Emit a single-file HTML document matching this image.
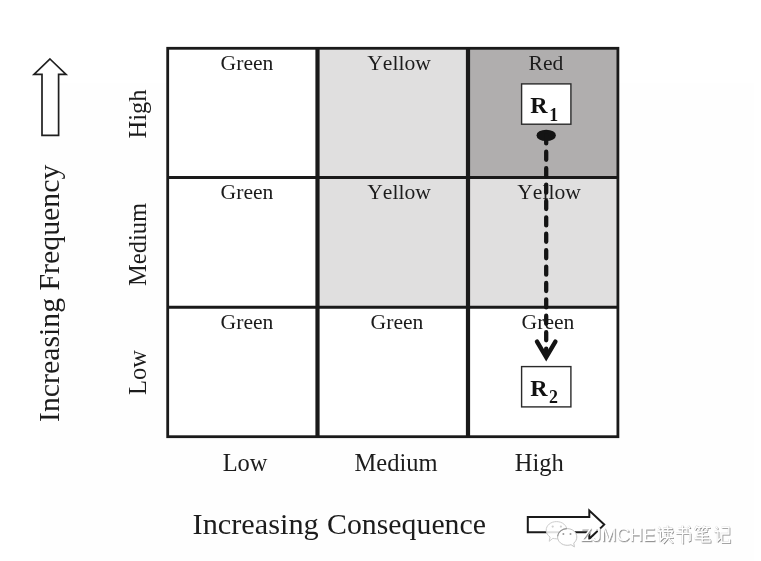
<!DOCTYPE html>
<html>
<head>
<meta charset="utf-8">
<title>Risk Matrix</title>
<style>
  html, body { margin: 0; padding: 0; background: #ffffff; }
  body { width: 761px; height: 561px; overflow: hidden; position: relative; }
  svg { position: absolute; left: 0; top: 0; display: block; will-change: transform; }
  text { font-family: "Liberation Serif", serif; fill: #1c1c1c; }
  .cell { font-kerning: none; font-size: 21.6px; text-anchor: middle; }
  .axis { font-size: 24.5px; text-anchor: middle; }
  .title { font-size: 29.5px; }
  .rb { font-weight: bold; font-size: 24px; fill: #111; }
  .sub { font-weight: bold; font-size: 17.9px; fill: #111; }
</style>
</head>
<body>
<svg width="761" height="561" viewBox="0 0 761 561">
  <!-- faint page tint -->
  <rect x="40" y="83.5" width="714" height="477.5" fill="#fefefe"/>

  <!-- cell fills -->
  <rect x="168" y="48" width="450" height="389" fill="#ffffff"/>
  <rect x="317.5" y="48" width="150.5" height="259" fill="#e0dfdf"/>
  <rect x="468" y="177" width="150" height="130" fill="#e0dfdf"/>
  <rect x="468" y="48" width="150" height="129.5" fill="#b0aeae"/>

  <!-- grid lines -->
  <g stroke="#1a1a1a" fill="none">
    <rect x="167.7" y="48.3" width="450.2" height="388.4" stroke-width="2.8"/>
    <line x1="167" y1="177.5" x2="618" y2="177.5" stroke-width="3"/>
    <line x1="167" y1="307.2" x2="618" y2="307.2" stroke-width="3"/>
    <line x1="317.5" y1="48" x2="317.5" y2="437" stroke-width="4.2"/>
    <line x1="468" y1="48" x2="468" y2="437" stroke-width="4.2"/>
  </g>

  <!-- cell labels -->
  <text class="cell" x="247" y="70.4">Green</text>
  <text class="cell" x="399" y="70.4">Yellow</text>
  <text class="cell" x="546" y="70.2">Red</text>
  <text class="cell" x="247" y="199.4">Green</text>
  <text class="cell" x="399" y="199.4">Yellow</text>
  <text class="cell" x="549" y="199.4">Yellow</text>
  <text class="cell" x="247" y="329.4">Green</text>
  <text class="cell" x="397" y="329.4">Green</text>
  <text class="cell" x="548" y="329.4">Green</text>

  <!-- R1 / R2 boxes -->
  <rect x="521.6" y="83.9" width="49.3" height="40.3" fill="#ffffff" stroke="#2a2a2a" stroke-width="1.4"/>
  <text class="rb" x="530.3" y="112.9">R</text>
  <text class="sub" x="549.2" y="120.5">1</text>
  <rect x="521.6" y="366.6" width="49.3" height="40.3" fill="#ffffff" stroke="#2a2a2a" stroke-width="1.4"/>
  <text class="rb" x="530.3" y="395.7">R</text>
  <text class="sub" x="548.9" y="403.4">2</text>

  <!-- dot, dashed line, arrowhead -->
  <ellipse cx="546.2" cy="135.4" rx="9.7" ry="5.7" fill="#141414"/>
  <line x1="546.2" y1="135.35" x2="546.2" y2="356" stroke="#141414" stroke-width="4.3" stroke-linecap="round" stroke-dasharray="8.1 8.3"/>
  <polyline points="537,341.6 546.2,357.2 555.4,341.6" fill="none" stroke="#141414" stroke-width="4.4" stroke-linecap="round" stroke-linejoin="miter"/>

  <!-- row labels (rotated) -->
  <text class="axis" transform="translate(145.7,114) rotate(-90)">High</text>
  <text class="axis" transform="translate(145.7,244.4) rotate(-90)">Medium</text>
  <text class="axis" transform="translate(145.7,372.5) rotate(-90)">Low</text>

  <!-- column labels -->
  <text class="axis" x="245.1" y="471">Low</text>
  <text class="axis" x="396" y="471">Medium</text>
  <text class="axis" x="539.3" y="471">High</text>

  <!-- axis titles -->
  <text class="title" style="font-size:30.3px" x="192.6" y="534">Increasing</text>
  <text class="title" style="font-size:29.8px" x="327.1" y="534">Consequence</text>
  <text class="title" style="font-size:29.8px" transform="translate(58.8,422) rotate(-90)">Increasing Frequency</text>

  <!-- up arrow -->
  <polygon points="50,59 66,74.3 58.6,74.3 58.6,135.4 42,135.4 42,74.3 34,74.3" fill="#ffffff" stroke="#1f1f1f" stroke-width="1.7" stroke-linejoin="miter"/>

  <!-- right arrow -->
  <polygon points="527.8,517 589.3,517 589.3,510.6 604.2,524.6 589.3,538.8 589.3,532.3 527.8,532.3" fill="#ffffff" stroke="#1a1a1a" stroke-width="2" stroke-linejoin="miter"/>

  <!-- watermark: wechat icon -->
  <g>
    <path d="M556.5,521.6 C562.4,521.6 566.9,525.4 566.9,530.2 C566.9,535 562.4,538.8 556.5,538.8 C555.2,538.8 554,538.6 552.9,538.3 L549.2,541.3 L550.1,537 C547.7,535.4 546.2,533 546.2,530.2 C546.2,525.4 550.7,521.6 556.5,521.6 Z" fill="#ffffff" fill-opacity="0.86" stroke="#cdcdcd" stroke-width="1"/>
    <circle cx="552.7" cy="526.6" r="1.1" fill="#cfcfcf"/>
    <circle cx="560.9" cy="526.6" r="1.1" fill="#cfcfcf"/>
    <path d="M567.2,528.6 C572.5,528.6 576.8,532.3 576.8,537 C576.8,539.4 575.6,541.6 573.8,543.1 L574.4,546.9 L571,544.7 C569.8,545.1 568.5,545.3 567.2,545.3 C561.9,545.3 557.6,541.6 557.6,537 C557.6,532.3 561.9,528.6 567.2,528.6 Z" fill="#ffffff" stroke="#c4c4c4" stroke-width="1"/>
    <path d="M557.7,536.2 C558.2,532 562,528.7 566.8,528.6" fill="none" stroke="#8e8e8e" stroke-width="1.1"/>
    <circle cx="563.4" cy="533.9" r="1" fill="#9a9a9a"/>
    <circle cx="570.5" cy="533.9" r="1" fill="#9a9a9a"/>
  </g>

  <!-- watermark: text -->
  
  <g style="font-family:'Liberation Sans',sans-serif;font-size:18.4px">
    <text x="581.5" y="541.9" style="font-family:'Liberation Sans',sans-serif;fill:#858585;stroke:#bdbdbd;stroke-width:0.7px">ZJMCHE</text>
    <text x="580.7" y="541.1" style="font-family:'Liberation Sans',sans-serif;fill:#ffffff">ZJMCHE</text>
  </g>
  <g fill="none" stroke-linecap="butt" stroke-linejoin="miter" stroke="#d9d9d9" stroke-width="2.3">
      <!-- du -->
      <g transform="translate(657,525.6) scale(0.93,1)">
        <path d="M1.5,1.5 L3.8,3.6 M0.3,6.2 H3.8 V14.5 L6.2,12.3"/>
        <path d="M6.8,2.8 H16.6 M11.6,0 V5.6 M6.8,5.8 H16.6 L15.6,7.8 M8.6,7.6 L9.6,8.8 M8.2,9.8 L9.4,11 M5.8,12 H17.2 M11.8,7 V12 L6.6,17.6 M12.6,13.2 L16.8,17.4"/>
      </g>
      <!-- shu -->
      <g transform="translate(675.6,525.6) scale(0.93,1)">
        <path d="M2.6,3.2 H12.2 V8 M0.4,8 H15.6 V14.6 L13.4,15.6 M7.6,0 V18.2 M13.6,0.4 L15.6,2.4"/>
      </g>
      <!-- bi -->
      <g transform="translate(694,525.6) scale(0.93,1)">
        <path d="M3.6,0 L1,4.2 M2.4,2 H7.6 M5,2.2 L6,4.2 M11.2,0 L8.8,4.2 M10.2,2 H17.2 M13.4,2.2 L14.4,4.2"/>
        <path d="M14,5.6 L3.4,7.4 M2.6,10.2 H15.4 M0.6,13.2 H17 M8.8,6.6 V16.4 H17.2 V14"/>
      </g>
      <!-- ji -->
      <g transform="translate(714.4,525.6) scale(0.93,1)">
        <path d="M1.4,1 L3.6,3.2 M0,6.2 H3.8 V15 L6.6,12.4"/>
        <path d="M7.8,2 H15.6 V8.4 H8 V16.6 H16.4 V13.4"/>
      </g>
    </g>
  <g fill="none" stroke-linecap="butt" stroke-linejoin="miter" transform="translate(0.8,0.8)" stroke="#8a8a8a" stroke-width="1.4">
      <!-- du -->
      <g transform="translate(657,525.6) scale(0.93,1)">
        <path d="M1.5,1.5 L3.8,3.6 M0.3,6.2 H3.8 V14.5 L6.2,12.3"/>
        <path d="M6.8,2.8 H16.6 M11.6,0 V5.6 M6.8,5.8 H16.6 L15.6,7.8 M8.6,7.6 L9.6,8.8 M8.2,9.8 L9.4,11 M5.8,12 H17.2 M11.8,7 V12 L6.6,17.6 M12.6,13.2 L16.8,17.4"/>
      </g>
      <!-- shu -->
      <g transform="translate(675.6,525.6) scale(0.93,1)">
        <path d="M2.6,3.2 H12.2 V8 M0.4,8 H15.6 V14.6 L13.4,15.6 M7.6,0 V18.2 M13.6,0.4 L15.6,2.4"/>
      </g>
      <!-- bi -->
      <g transform="translate(694,525.6) scale(0.93,1)">
        <path d="M3.6,0 L1,4.2 M2.4,2 H7.6 M5,2.2 L6,4.2 M11.2,0 L8.8,4.2 M10.2,2 H17.2 M13.4,2.2 L14.4,4.2"/>
        <path d="M14,5.6 L3.4,7.4 M2.6,10.2 H15.4 M0.6,13.2 H17 M8.8,6.6 V16.4 H17.2 V14"/>
      </g>
      <!-- ji -->
      <g transform="translate(714.4,525.6) scale(0.93,1)">
        <path d="M1.4,1 L3.6,3.2 M0,6.2 H3.8 V15 L6.6,12.4"/>
        <path d="M7.8,2 H15.6 V8.4 H8 V16.6 H16.4 V13.4"/>
      </g>
    </g>
  <g fill="none" stroke-linecap="butt" stroke-linejoin="miter" stroke="#ffffff" stroke-width="1.5">
      <!-- du -->
      <g transform="translate(657,525.6) scale(0.93,1)">
        <path d="M1.5,1.5 L3.8,3.6 M0.3,6.2 H3.8 V14.5 L6.2,12.3"/>
        <path d="M6.8,2.8 H16.6 M11.6,0 V5.6 M6.8,5.8 H16.6 L15.6,7.8 M8.6,7.6 L9.6,8.8 M8.2,9.8 L9.4,11 M5.8,12 H17.2 M11.8,7 V12 L6.6,17.6 M12.6,13.2 L16.8,17.4"/>
      </g>
      <!-- shu -->
      <g transform="translate(675.6,525.6) scale(0.93,1)">
        <path d="M2.6,3.2 H12.2 V8 M0.4,8 H15.6 V14.6 L13.4,15.6 M7.6,0 V18.2 M13.6,0.4 L15.6,2.4"/>
      </g>
      <!-- bi -->
      <g transform="translate(694,525.6) scale(0.93,1)">
        <path d="M3.6,0 L1,4.2 M2.4,2 H7.6 M5,2.2 L6,4.2 M11.2,0 L8.8,4.2 M10.2,2 H17.2 M13.4,2.2 L14.4,4.2"/>
        <path d="M14,5.6 L3.4,7.4 M2.6,10.2 H15.4 M0.6,13.2 H17 M8.8,6.6 V16.4 H17.2 V14"/>
      </g>
      <!-- ji -->
      <g transform="translate(714.4,525.6) scale(0.93,1)">
        <path d="M1.4,1 L3.6,3.2 M0,6.2 H3.8 V15 L6.6,12.4"/>
        <path d="M7.8,2 H15.6 V8.4 H8 V16.6 H16.4 V13.4"/>
      </g>
    </g>
</svg>
</body>
</html>
